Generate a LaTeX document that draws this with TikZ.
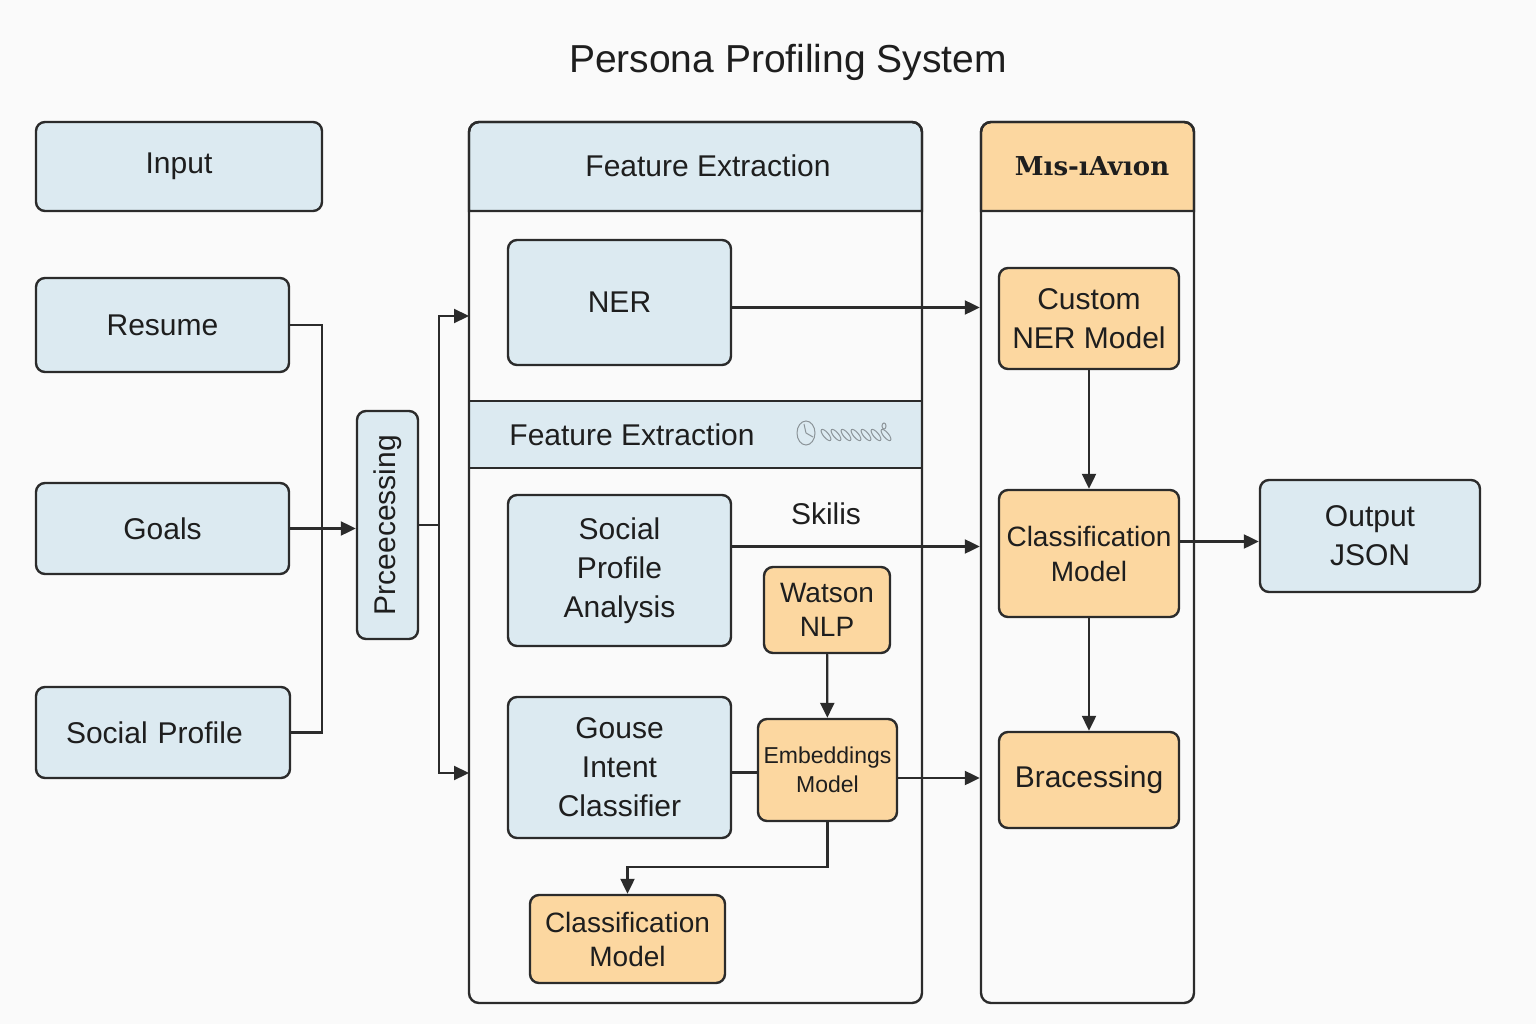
\documentclass[tikz,border=0pt]{standalone}
\usepackage{fontspec}
\setmainfont{Liberation Sans}
\newfontfamily\oddfont{DejaVu Serif}
\usetikzlibrary{arrows.meta}
\definecolor{lb}{HTML}{DCEAF1}
\definecolor{lo}{HTML}{FCD7A0}
\definecolor{lc}{HTML}{2B2B2B}
\definecolor{tc}{HTML}{1E1E1E}
\definecolor{bg}{HTML}{FAFAFA}
\definecolor{scr}{HTML}{8C9499}
\newcommand\myfs[2]{\fontsize{#1}{#2}\selectfont}
\tikzset{
  base/.style={draw=lc, line width=2.4pt, rounded corners=9pt, align=center, text=tc, inner sep=0pt, font=\myfs{30}{39}},
  bbox/.style={base, fill=lb},
  obox/.style={base, fill=lo},
  frame/.style={draw=lc, line width=2.4pt, rounded corners=10pt, inner sep=0pt},
  ln/.style={draw=lc, line width=2.2pt},
  arr/.style={draw=lc, line width=2.2pt, -{Triangle[length=15pt,width=14pt]}},
  lbl/.style={text=tc, font=\myfs{30}{39}, inner sep=0pt},
}
\begin{document}
\begin{tikzpicture}[x=1pt,y=-1pt]
\useasboundingbox (0,0) rectangle (1536,1024);
\fill[bg] (0,0) rectangle (1536,1024);

% title
\node[lbl, font=\myfs{39}{46}] (title) at (788,62) {Persona Profiling System};

% left inputs
\node[bbox, minimum width=286pt, minimum height=89pt] (input) at (179,166.5) {Input};
\node[bbox, minimum width=253pt, minimum height=94pt] (resume) at (162.5,325) {Resume};
\node[bbox, minimum width=253pt, minimum height=91pt] (goals) at (162.5,528.5) {Goals};
\node[bbox, minimum width=254pt, minimum height=91pt, text width=254pt, align=left, inner xsep=0pt] (socp) at (163,732.5) {\hspace*{30pt}Social Profile};
\node[bbox, minimum width=61pt, minimum height=228pt] (proc) at (387.5,525) {\rotatebox{90}{Prceecessing}};

% middle frame
\filldraw[fill=lb, draw=lc, line width=2.4pt] (469,211) [rounded corners=10pt] -- (469,122) -- (922,122) [sharp corners] -- (922,211) -- cycle;
\filldraw[fill=lb, draw=lc, line width=2.4pt] (469,401) rectangle (922,468);
\node[frame, minimum width=453pt, minimum height=881pt] (fr1) at (695.5,562.5) {};
\node[lbl] (h1) at (708,166) {Feature Extraction};
\node[lbl] (h2) at (632,435) {Feature Extraction};
% scribble
\begin{scope}[draw=scr, line width=1pt]
  \draw (806,433) ellipse (9pt and 12pt);
  \draw (806,433) -- (804,424) (806,433) -- (813,437);
  \foreach \xx in {826,836,846,856,866,876,886} {
    \draw[rotate around={-50:(\xx,435)}] (\xx,435) ellipse (7pt and 2.6pt);
  }
  \draw (884,426) ellipse (2pt and 3pt);
\end{scope}

\node[bbox, minimum width=223pt, minimum height=125pt] (ner) at (619.5,302.5) {NER};
\node[bbox, minimum width=223pt, minimum height=151pt] (spa) at (619.5,570.5) {Social\\Profile\\Analysis};
\node[lbl] (skills) at (826,514) {Skilis};
\node[obox, minimum width=126pt, minimum height=86pt, font=\myfs{28}{34}] (watson) at (827,610) {Watson\\NLP};
\node[bbox, minimum width=223pt, minimum height=141pt] (gic) at (619.5,767.5) {Gouse\\Intent\\Classifier};
\node[obox, minimum width=139pt, minimum height=102pt, font=\myfs{23}{29}] (emb) at (827.5,770) {Embeddings\\Model};
\node[obox, minimum width=195pt, minimum height=88pt, font=\myfs{28}{34}] (cls2) at (627.5,939) {Classification\\Model};

% right frame
\filldraw[fill=lo, draw=lc, line width=2.4pt] (981,211) [rounded corners=10pt] -- (981,122) -- (1194,122) [sharp corners] -- (1194,211) -- cycle;
\node[frame, minimum width=213pt, minimum height=881pt] (fr2) at (1087.5,562.5) {};
\node[lbl, font=\oddfont\bfseries\myfs{26}{30}] (h3) at (1092,166) {Mıs-ıAvıon};
\node[obox, minimum width=180pt, minimum height=101pt] (cner) at (1089,318.5) {Custom\\NER Model};
\node[obox, minimum width=180pt, minimum height=127pt, font=\myfs{28}{35}] (cls1) at (1089,553.5) {Classification\\Model};
\node[obox, minimum width=180pt, minimum height=96pt] (brac) at (1089,780) {Bracessing};
\node[bbox, minimum width=220pt, minimum height=112pt] (out) at (1370,536) {Output\\JSON};

% connectors left
\coordinate (jL) at (322,528.5);
\draw[ln] (resume.east) -| (jL) |- (socp.east);
\draw[arr] (goals.east) -- (goals.east -| proc.west);
\coordinate (jM) at (439,525);
\coordinate (t1) at (469,316);
\coordinate (t2) at (469,773);
\draw[ln] (proc.east) -- (jM);
\draw[arr] (jM) |- (t1);
\draw[arr] (jM) |- (t2);

% connectors middle
\draw[arr] ([yshift=-5pt]ner.east) -- ([yshift=-5pt]ner.east -| fr2.west);
\draw[arr] ([yshift=24pt]spa.east) -- ([yshift=24pt]spa.east -| fr2.west);
\draw[arr] (watson) -- (emb);
\draw[ln] ([yshift=-5pt]gic.east) -- ([yshift=-5pt]gic.east -| emb.west);
\draw[arr] ([yshift=-8pt]emb.east) -- ([yshift=-8pt]emb.east -| fr2.west);
\draw[arr] (emb.south) -- ++(0,45) -| (cls2.north);

% connectors right
\draw[arr] (cner) -- (cls1);
\draw[arr] (cls1) -- (brac);
\draw[arr] ([yshift=12pt]cls1.east) -- ([yshift=12pt]cls1.east -| out.west);
\end{tikzpicture}
\end{document}
